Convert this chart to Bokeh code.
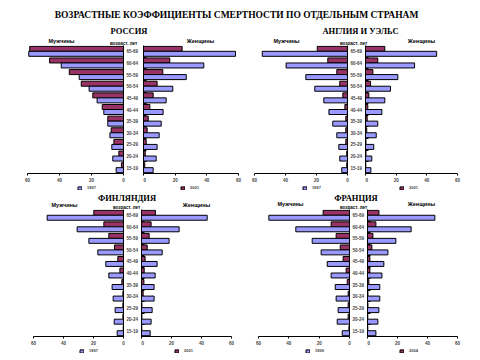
from bokeh.plotting import figure
from bokeh.models import Range1d, FixedTicker, Legend, LegendItem, ColumnDataSource
from bokeh.layouts import column, row
from bokeh.transform import dodge
from bokeh.core.properties import value
from bokeh.embed import file_html
from bokeh.resources import INLINE

# ---------------- data (bottom row 15-19 -> top row 65-69) ----------------
ages = ["15-19", "20-24", "25-29", "30-34", "35-39", "40-44",
        "45-49", "50-54", "55-59", "60-64", "65-69"]
x_ticks = [0, 20, 40, 60]

title_main = "ВОЗРАСТНЫЕ КОЭФФИЦИЕНТЫ СМЕРТНОСТИ ПО ОТДЕЛЬНЫМ СТРАНАМ"
countries = ["РОССИЯ", "АНГЛИЯ И УЭЛЬС", "ФИНЛЯНДИЯ", "ФРАНЦИЯ"]
men_label = "Мужчины"
women_label = "Женщины"
age_header = "возраст, лет"

russia_years = ["1897", "2001"]
russia_m_old = [4.6, 6.7, 7.3, 8.5, 9.8, 12.3, 16.5, 21.5, 27.7, 38.9, 59.2]
russia_m_new = [1.3, 2.9, 6.0, 7.7, 9.8, 13.3, 19.2, 26.4, 33.9, 46.2, 58.6]
russia_f_old = [6.1, 8.0, 8.6, 9.9, 11.2, 12.4, 14.3, 18.5, 27.0, 38.1, 58.1]
russia_f_new = [0.8, 1.1, 1.7, 2.3, 3.0, 4.0, 6.1, 8.6, 12.2, 16.6, 24.4]

england_years = ["1897", "2001"]
england_m_old = [3.7, 5.0, 5.6, 6.9, 9.5, 12.0, 15.3, 21.1, 26.9, 39.6, 55.0]
england_m_new = [0.5, 0.5, 1.1, 1.1, 1.1, 1.7, 3.0, 5.0, 6.9, 12.7, 19.5]
england_f_old = [3.5, 4.1, 5.4, 7.0, 8.0, 10.7, 12.6, 16.3, 21.1, 32.0, 46.4]
england_f_new = [0.2, 0.3, 0.3, 0.8, 1.1, 1.5, 2.2, 3.3, 4.8, 8.0, 12.6]

finland_years = ["1897", "2001"]
finland_m_old = [4.2, 6.2, 5.6, 6.9, 7.6, 9.8, 11.8, 17.1, 23.1, 30.9, 50.9]
finland_m_new = [0.2, 0.4, 0.4, 0.4, 1.1, 2.4, 3.8, 6.0, 9.8, 13.1, 19.8]
finland_f_old = [5.8, 6.4, 7.1, 8.4, 8.4, 9.1, 10.4, 13.8, 18.4, 25.1, 43.8]
finland_f_new = [0.2, 0.3, 0.3, 1.1, 1.6, 1.8, 2.4, 3.8, 5.1, 6.4, 9.3]

france_years = ["1899", "2004"]
france_m_old = [4.8, 8.1, 7.5, 8.8, 9.4, 12.1, 14.7, 18.7, 24.6, 35.4, 53.2]
france_m_new = [0.4, 0.9, 0.9, 0.9, 1.5, 2.2, 4.2, 6.1, 8.8, 12.1, 17.4]
france_f_old = [5.6, 6.9, 7.6, 8.2, 8.2, 9.6, 10.9, 13.6, 18.9, 29.1, 44.9]
france_f_new = [0.2, 0.2, 0.3, 0.3, 0.9, 1.6, 1.6, 2.9, 3.6, 5.6, 7.6]

OLD_COLOR = "#9999FF"
NEW_COLOR = "#993366"
SANS = "Liberation Sans"
SERIF = "Liberation Serif"
NAN = float("nan")


def half(side, old, new, width, height, bl, br):
    left = side == "L"
    p = figure(width=width, height=height,
               x_range=Range1d(60, 0) if left else Range1d(0, 60),
               y_range=Range1d(-0.5, len(ages) - 0.5),
               output_backend="svg", toolbar_location=None,
               y_axis_location="right" if left else "left",
               min_border_left=bl, min_border_right=br,
               min_border_top=0, min_border_bottom=12)
    p.outline_line_color = None
    p.grid.visible = False

    src = ColumnDataSource(dict(y=list(range(len(ages))), old=old, new=new))
    p.hbar(y=dodge("y", 0.215, range=p.y_range), left=0, right="new",
           height=0.43, source=src, fill_color=NEW_COLOR,
           line_color="black", line_width=1)
    p.hbar(y=dodge("y", -0.215, range=p.y_range), left=0, right="old",
           height=0.43, source=src, fill_color=OLD_COLOR,
           line_color="black", line_width=1)

    xa = p.xaxis[0]
    xa.ticker = FixedTicker(ticks=x_ticks)
    xa.major_tick_out = 2
    xa.major_tick_in = 0
    xa.minor_tick_line_color = None
    xa.major_label_text_font = SANS
    xa.major_label_text_font_size = "4.5px"
    xa.major_label_text_font_style = "bold"
    xa.major_label_standoff = 2
    xa.axis_line_color = "black"

    ya = p.yaxis[0]
    ya.minor_tick_line_color = None
    ya.axis_line_color = "black"
    if left:
        ya.ticker = FixedTicker(ticks=list(range(len(ages))))
        ya.major_label_overrides = {i: a for i, a in enumerate(ages)}
        ya.major_tick_out = 0
        ya.major_tick_in = 0
        ya.major_label_standoff = 3
        ya.major_label_text_font = SANS
        ya.major_label_text_font_size = "4.5px"
        ya.major_label_text_font_style = "bold"
    else:
        ya.ticker = FixedTicker(ticks=[i + 0.5 for i in range(len(ages) - 1)])
        ya.major_label_overrides = {i + 0.5: "" for i in range(len(ages) - 1)}
        ya.major_tick_out = 0
        ya.major_tick_in = 3
        ya.major_label_standoff = 0
        ya.major_label_text_font_size = "1px"
    return p


def band(y0, h):
    p = figure(width=472, height=h, x_range=Range1d(0, 472),
               y_range=Range1d(y0 + h, y0), output_backend="svg",
               toolbar_location=None, x_axis_location=None,
               y_axis_location=None, min_border=0)
    p.outline_line_color = None
    p.grid.visible = False
    return p


def put(p, x, y, txt, size, font=SANS, style="bold"):
    p.text(x=[x], y=[y], text=[txt], text_font=value(font),
           text_font_size=size, text_font_style=style,
           text_align="center", text_baseline="middle", text_color="black")


def key(p, label, color, x, y):
    # legend proxy: a renderer with no drawable bar, used only for the key
    r = p.hbar(y=[NAN], left=[NAN], right=[NAN], height=1, fill_color=color,
               line_color="black", line_width=1)
    leg = Legend(items=[LegendItem(label=label, renderers=[r])],
                 location=(x, y), orientation="horizontal",
                 border_line_color=None, background_fill_alpha=0,
                 padding=0, margin=0, spacing=0,
                 glyph_width=5, glyph_height=4, label_height=4,
                 label_standoff=5, label_text_font=SANS,
                 label_text_font_size="4px", label_text_font_style="bold",
                 label_text_baseline="middle")
    p.add_layout(leg)


# ---------------- header band (screen y 0..45) ----------------
bandA = band(0, 45)
put(bandA, 236, 14.5, title_main, "9.5px", SERIF)
put(bandA, 128.5, 30.5, countries[0], "8.5px", SERIF)
put(bandA, 360, 30.5, countries[1], "8.5px", SERIF)
put(bandA, 61, 40.5, men_label, "5.5px")
put(bandA, 200, 40.5, women_label, "5.5px")
put(bandA, 286, 40.5, men_label, "5.5px")
put(bandA, 421, 40.5, women_label, "5.5px")
put(bandA, 123, 42.5, age_header, "4.5px")
put(bandA, 353, 42.5, age_header, "4.5px")

TOP_H = 140
ru_L = half("L", russia_m_old, russia_m_new, 143, TOP_H, 27, 20)
ru_R = half("R", russia_f_old, russia_f_new, 103, TOP_H, 0, 8)
en_L = half("L", england_m_old, england_m_new, 119, TOP_H, 8, 18)
en_R = half("R", england_f_old, england_f_new, 107, TOP_H, 0, 15)

# ---------------- middle band (screen y 185..209) ----------------
bandB = band(185, 24)
key(bandB, russia_years[0], OLD_COLOR, 77, 19)
key(bandB, russia_years[1], NEW_COLOR, 180, 19)
key(bandB, england_years[0], OLD_COLOR, 302, 19)
key(bandB, england_years[1], NEW_COLOR, 399, 19)
put(bandB, 126.5, 197.5, countries[2], "8.5px", SERIF)
put(bandB, 355.5, 197.5, countries[3], "8.5px", SERIF)
put(bandB, 64, 204, men_label, "5.5px")
put(bandB, 196, 204, women_label, "5.5px")
put(bandB, 290, 203.5, men_label, "5.5px")
put(bandB, 421, 203.5, women_label, "5.5px")
put(bandB, 126, 207, age_header, "4.5px")
put(bandB, 353, 207, age_header, "4.5px")

BOT_H = 139
fi_L = half("L", finland_m_old, finland_m_new, 141, BOT_H, 33, 18)
fi_R = half("R", finland_f_old, finland_f_new, 100, BOT_H, 0, 10)
fr_L = half("L", france_m_old, france_m_new, 126, BOT_H, 17, 18)
fr_R = half("R", france_f_old, france_f_new, 105, BOT_H, 0, 15)

# ---------------- bottom band (legends, screen y 348..358) ----------------
bandC = band(348, 10)
key(bandC, finland_years[0], OLD_COLOR, 79, 5)
key(bandC, finland_years[1], NEW_COLOR, 174, 5)
key(bandC, france_years[0], OLD_COLOR, 305, 5)
key(bandC, france_years[1], NEW_COLOR, 399, 5)

layout = column(bandA, row(ru_L, ru_R, en_L, en_R), bandB,
                row(fi_L, fi_R, fr_L, fr_R), bandC, spacing=0)

open("out.html", "w").write(file_html(layout, INLINE))
